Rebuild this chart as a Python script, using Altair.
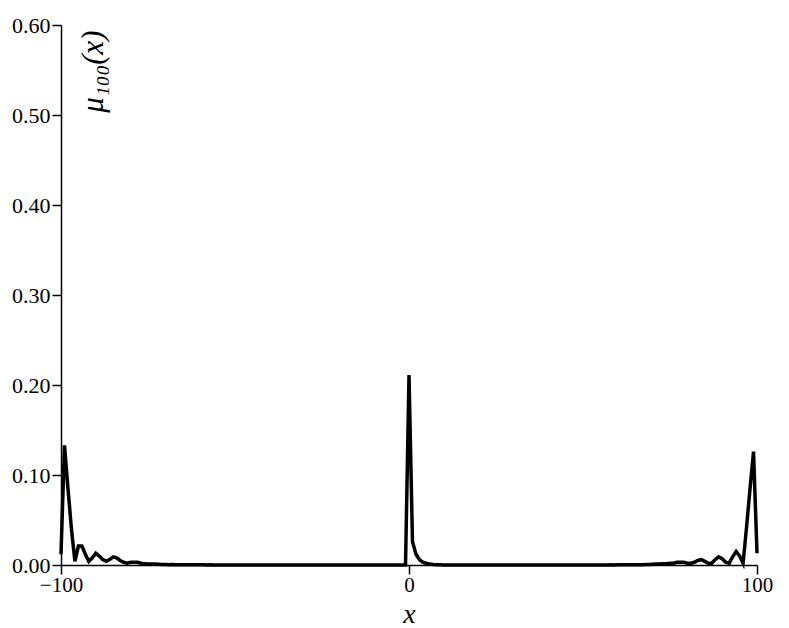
import altair as alt
import pandas as pd

# positions on the lattice
x_positions = list(range(-100, 101))

# mu_100(x), grouped by x range
mu_m100_m70 = [0.012, 0.133, 0.085, 0.040, 0.004, 0.021, 0.021, 0.012, 0.004, 0.008,
               0.013, 0.010, 0.006, 0.004, 0.006, 0.009, 0.008, 0.005, 0.003, 0.002,
               0.003, 0.003, 0.003, 0.002, 0.0015, 0.001, 0.0012, 0.001, 0.0008, 0.0006,
               0.0005]
mu_m69_m50 = [0.0004, 0.0005, 0.0004, 0.0003, 0.0003, 0.0004, 0.0003, 0.0002, 0.0002, 0.0003,
              0.0002, 0.0001, 0.0002, 0.0001, 0.0001, 0.0001, 0.0001, 0.0, 0.0001, 0.0]
mu_m49_m1 = [0.0, 0.0, 0.0, 0.0, 0.0, 0.0, 0.0, 0.0, 0.0, 0.0,
             0.0, 0.0, 0.0, 0.0, 0.0, 0.0, 0.0, 0.0, 0.0, 0.0,
             0.0, 0.0, 0.0, 0.0, 0.0, 0.0, 0.0, 0.0, 0.0, 0.0,
             0.0, 0.0, 0.0, 0.0, 0.0, 0.0, 0.0, 0.0, 0.0, 0.0,
             0.0, 0.0, 0.0, 0.0, 0.0, 0.0, 0.0, 0.0, 0.0]
mu_0 = [0.211]
mu_1_10 = [0.026, 0.012, 0.006, 0.003, 0.002, 0.001, 0.0006, 0.0003, 0.0002, 0.0001]
mu_11_54 = [0.0, 0.0, 0.0, 0.0, 0.0, 0.0, 0.0, 0.0, 0.0, 0.0,
            0.0, 0.0, 0.0, 0.0, 0.0, 0.0, 0.0, 0.0, 0.0, 0.0,
            0.0, 0.0, 0.0, 0.0, 0.0, 0.0, 0.0, 0.0, 0.0, 0.0,
            0.0, 0.0, 0.0, 0.0, 0.0, 0.0, 0.0, 0.0, 0.0, 0.0,
            0.0, 0.0, 0.0, 0.0]
mu_55_69 = [0.0001, 0.0001, 0.0001, 0.0002, 0.0001, 0.0002, 0.0002, 0.0003, 0.0002, 0.0003,
            0.0004, 0.0003, 0.0004, 0.0005, 0.0006]
mu_70_100 = [0.0008, 0.001, 0.001, 0.0015, 0.0015, 0.002, 0.002, 0.003, 0.003, 0.003,
             0.002, 0.002, 0.003, 0.005, 0.006, 0.004, 0.002, 0.002, 0.006, 0.009,
             0.007, 0.003, 0.002, 0.009, 0.015, 0.010, 0.002, 0.042, 0.085, 0.126,
             0.013]

mu = (mu_m100_m70 + mu_m69_m50 + mu_m49_m1 + mu_0 + mu_1_10 + mu_11_54
      + mu_55_69 + mu_70_100)
assert len(mu) == len(x_positions)

x_ticks = [-100, 0, 100]
y_ticks = [0.0, 0.1, 0.2, 0.3, 0.4, 0.5, 0.6]

df = pd.DataFrame({"x": x_positions, "mu": mu})

FONT = "Liberation Serif"

chart = (
    alt.Chart(df)
    .mark_line(color="black", strokeWidth=3.5)
    .encode(
        x=alt.X(
            "x:Q",
            scale=alt.Scale(domain=[-100, 100], nice=False, zero=False),
            axis=alt.Axis(
                values=x_ticks,
                format="d",
                title="x",
                titleY=57,
                titleBaseline="alphabetic",
                titleFontSize=28,
                labelFlush=False,
                labelPadding=0,
                labelFontSize=21,
            ),
        ),
        y=alt.Y(
            "mu:Q",
            scale=alt.Scale(domain=[0, 0.6], nice=False),
            axis=alt.Axis(
                values=y_ticks,
                format=".2f",
                title="μ₁₀₀(x)",
                titleAngle=270,
                titleX=32,
                titleY=46,
                titleAlign="center",
                titleBaseline="middle",
                titleFontSize=31,
                labelPadding=2,
                labelFlush=False,
                labelFontSize=22,
            ),
        ),
    )
    .properties(
        width=696,
        height=540,
        autosize=alt.AutoSizeParams(type="none"),
        padding={"left": 53, "top": 17, "right": 24, "bottom": 62},
    )
    .configure_view(stroke=None)
    .configure_axis(
        grid=False,
        domainColor="black",
        domainWidth=1.5,
        tickColor="black",
        tickWidth=1.5,
        tickSize=9,
        labelFont=FONT,
        labelColor="black",
        titleFont=FONT,
        titleFontStyle="italic",
        titleFontWeight="normal",
        titleColor="black",
    )
)

chart.save("out.html", embed_options={"renderer": "svg", "actions": False})
